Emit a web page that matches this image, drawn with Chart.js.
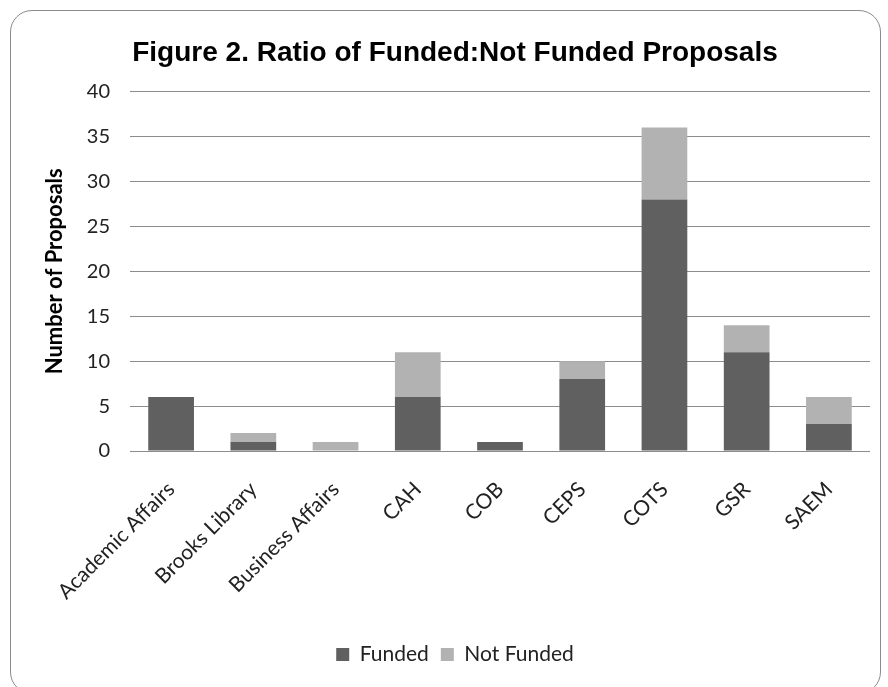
<!DOCTYPE html>
<html>
<head>
<meta charset="utf-8">
<script src="https://cdn.jsdelivr.net/npm/chart.js@4.4.0/dist/chart.umd.min.js"></script>
<style>
    body { margin: 0; background: #fff; }
    #wrap { position: relative; width: 888px; height: 687px; }
    #frame {
        position: absolute; left: 10px; top: 10px; width: 871px; height: 684px;
        border: 1px solid #8a8a8a; border-radius: 22px; box-sizing: border-box;
        pointer-events: none;
    }
    canvas { position: absolute; left: 0; top: 0; }
</style>
</head>
<body>
<div id="wrap">
    <canvas id="ratioChart" width="888" height="687"></canvas>
    <div id="frame"></div>
</div>
<script>
// Chart data
const categories = ['Academic Affairs', 'Brooks Library', 'Business Affairs', 'CAH', 'COB', 'CEPS', 'COTS', 'GSR', 'SAEM'];
const funded = [6, 1, 0, 6, 1, 8, 28, 11, 3];
const notFunded = [0, 1, 1, 5, 0, 2, 8, 3, 3];
const yMax = 40;
const yStep = 5;

const sans = "Lato, 'Open Sans', sans-serif";

const ctx = document.getElementById('ratioChart').getContext('2d');
new Chart(ctx, {
    type: 'bar',
    data: {
        labels: categories,
        datasets: [
            { label: 'Funded', data: funded, backgroundColor: '#606060' },
            { label: 'Not Funded', data: notFunded, backgroundColor: '#b2b2b2' }
        ]
    },
    options: {
        responsive: false,
        animation: false,
        barPercentage: 0.556,
        categoryPercentage: 1,
        layout: { padding: { left: 40, right: 18, top: 0, bottom: 12 } },
        scales: {
            x: {
                stacked: true,
                grid: { display: false },
                border: { display: false },
                ticks: { font: { family: sans, size: 21 }, color: '#222', minRotation: 45, maxRotation: 45, padding: 18 },
                afterFit: (scale) => { scale.height = 181; }
            },
            y: {
                stacked: true,
                min: 0,
                max: yMax,
                ticks: { stepSize: yStep, font: { family: sans, size: 20 }, color: '#222', padding: 20 },
                grid: { color: '#8c8c8c', drawTicks: false },
                border: { display: false },
                title: {
                    display: true,
                    text: 'Number of Proposals',
                    font: { family: sans, size: 22, weight: 'bold' },
                    color: '#000',
                    padding: { top: 2, bottom: 2 }
                },
                afterFit: (scale) => { scale.width = 90; }
            }
        },
        plugins: {
            title: {
                display: true,
                text: 'Figure 2. Ratio of Funded:Not Funded Proposals',
                font: { family: "'Liberation Sans', Arial, sans-serif", size: 28, weight: 'bold' },
                color: '#000',
                padding: { top: 36, bottom: 22 }
            },
            legend: {
                position: 'bottom',
                labels: { font: { family: sans, size: 21 }, color: '#222', boxWidth: 13, boxHeight: 13, padding: 12 }
            },
            tooltip: { enabled: false }
        }
    }
});
</script>
</body>
</html>
